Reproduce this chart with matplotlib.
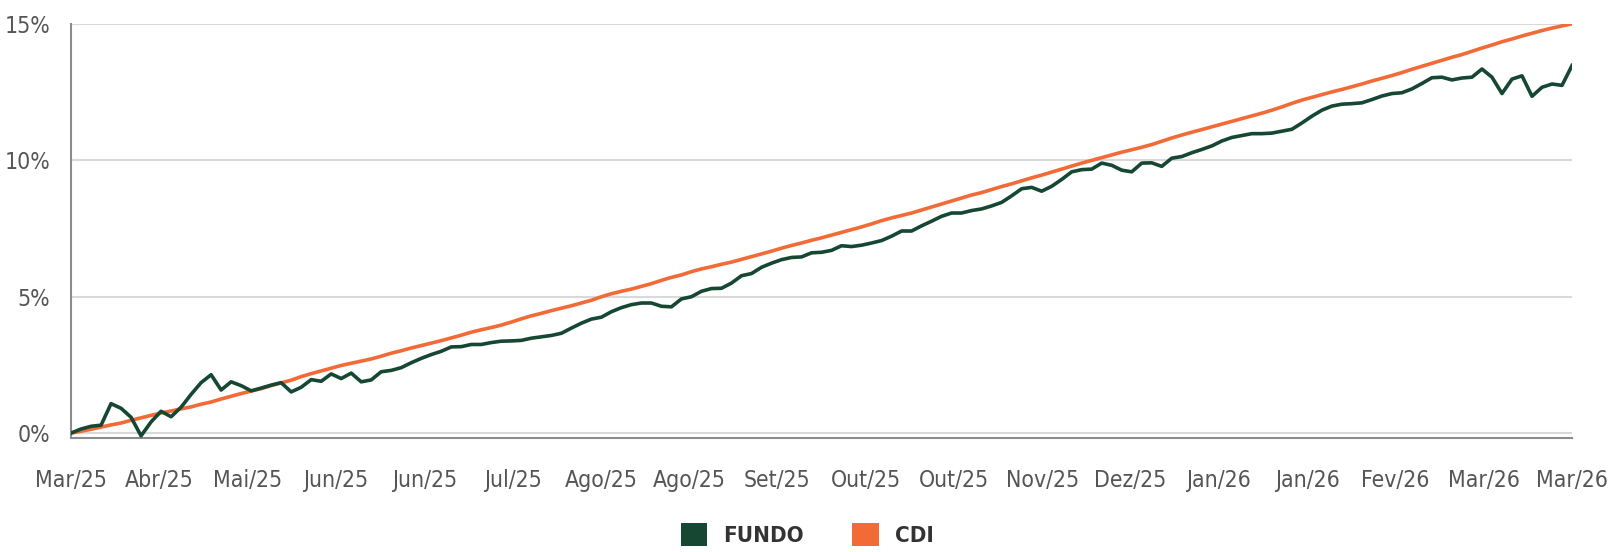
import numpy as np
import matplotlib
matplotlib.use("Agg")
import matplotlib.pyplot as plt
from matplotlib.patches import Patch

plt.rcParams['font.family'] = ['Liberation Sans Narrow', 'DejaVu Sans']
plt.rcParams['font.stretch'] = 'condensed'

# cumulative return (%) - one value per step
fundo = [0.00, 0.15, 0.25, 0.29, 1.08, 0.91, 0.58, -0.10, 0.41, 0.80,
         0.60, 0.95, 1.42, 1.85, 2.14, 1.58, 1.88, 1.74, 1.55, 1.65,
         1.76, 1.85, 1.51, 1.68, 1.96, 1.90, 2.17, 2.00, 2.20, 1.88,
         1.95, 2.25, 2.30, 2.40, 2.58, 2.74, 2.88, 3.00, 3.16, 3.17,
         3.25, 3.25, 3.32, 3.37, 3.38, 3.40, 3.48, 3.53, 3.58, 3.66,
         3.85, 4.03, 4.18, 4.25, 4.45, 4.60, 4.71, 4.77, 4.77, 4.65,
         4.63, 4.92, 5.00, 5.20, 5.30, 5.31, 5.50, 5.77, 5.85, 6.08,
         6.23, 6.36, 6.44, 6.46, 6.61, 6.63, 6.70, 6.87, 6.84, 6.89,
         6.97, 7.06, 7.22, 7.41, 7.41, 7.60, 7.77, 7.95, 8.07, 8.07,
         8.16, 8.22, 8.33, 8.46, 8.70, 8.96, 9.01, 8.87, 9.05, 9.30,
         9.58, 9.66, 9.68, 9.90, 9.82, 9.64, 9.58, 9.90, 9.91, 9.78,
         10.08, 10.14, 10.28, 10.40, 10.53, 10.71, 10.84, 10.91, 10.98, 10.98,
         11.00, 11.07, 11.14, 11.37, 11.62, 11.84, 11.99, 12.06, 12.08, 12.11,
         12.23, 12.36, 12.45, 12.48, 12.62, 12.82, 13.03, 13.05, 12.95, 13.02,
         13.05, 13.35, 13.05, 12.45, 12.98, 13.10, 12.35, 12.68, 12.80, 12.75,
         13.48]

cdi = [0.00, 0.07, 0.14, 0.22, 0.30, 0.37, 0.47, 0.56, 0.65, 0.74,
       0.81, 0.89, 0.96, 1.06, 1.14, 1.25, 1.35, 1.45, 1.54, 1.63,
       1.74, 1.84, 1.94, 2.07, 2.18, 2.28, 2.38, 2.48, 2.56, 2.64,
       2.72, 2.82, 2.93, 3.02, 3.12, 3.21, 3.30, 3.39, 3.49, 3.59,
       3.70, 3.79, 3.87, 3.96, 4.07, 4.19, 4.30, 4.39, 4.49, 4.58,
       4.67, 4.77, 4.87, 5.00, 5.11, 5.20, 5.28, 5.38, 5.48, 5.60,
       5.71, 5.80, 5.92, 6.02, 6.10, 6.19, 6.27, 6.37, 6.47, 6.57,
       6.67, 6.78, 6.88, 6.97, 7.07, 7.16, 7.26, 7.36, 7.46, 7.56,
       7.67, 7.79, 7.89, 7.98, 8.07, 8.18, 8.29, 8.40, 8.51, 8.62,
       8.73, 8.82, 8.93, 9.04, 9.14, 9.25, 9.36, 9.46, 9.57, 9.68,
       9.79, 9.90, 10.00, 10.10, 10.20, 10.30, 10.39, 10.48, 10.58, 10.70,
       10.82, 10.93, 11.03, 11.13, 11.23, 11.33, 11.43, 11.53, 11.63, 11.73,
       11.84, 11.96, 12.09, 12.21, 12.31, 12.41, 12.51, 12.60, 12.70, 12.80,
       12.91, 13.01, 13.11, 13.22, 13.34, 13.45, 13.56, 13.67, 13.78, 13.88,
       14.00, 14.12, 14.23, 14.35, 14.45, 14.56, 14.66, 14.76, 14.85, 14.93,
       15.01]

month_labels = ['Mar/25', 'Abr/25', 'Mai/25', 'Jun/25', 'Jun/25', 'Jul/25',
                'Ago/25', 'Ago/25', 'Set/25', 'Out/25', 'Out/25', 'Nov/25',
                'Dez/25', 'Jan/26', 'Jan/26', 'Fev/26', 'Mar/26', 'Mar/26']
y_ticks = [0, 5, 10, 15]

green = '#164733'
orange = '#F26A36'
grid_c = '#d9d9d9'
text_c = '#555555'

fig = plt.figure(figsize=(16.14, 5.52), dpi=100)
ax = fig.add_axes([0.044, 0.2065, 0.930, 0.75])

n = len(fundo)
ax.plot(np.arange(len(cdi)), cdi, color=orange, lw=2.6, zorder=3)
ax.plot(np.arange(n), fundo, color=green, lw=2.6, zorder=4)

ax.set_xlim(0, n - 1)
ax.set_ylim(-0.18, 15)

ax.set_yticks(y_ticks)
ax.set_yticklabels([f'{v}%' for v in y_ticks])
ax.set_xticks(np.linspace(0, n - 1, len(month_labels)))
ax.set_xticklabels(month_labels)
ax.tick_params(axis='both', length=0, labelsize=16.5, colors=text_c)
ax.tick_params(axis='x', pad=22)
ax.tick_params(axis='y', pad=15)

ax.grid(axis='y', color=grid_c, lw=1.5, zorder=0)
for side in ['top', 'right']:
    ax.spines[side].set_visible(False)
ax.spines['left'].set_color('#8c8c8c')
ax.spines['left'].set_linewidth(1.5)
ax.spines['bottom'].set_color('#8c8c8c')
ax.spines['bottom'].set_linewidth(1.5)

handles = [Patch(facecolor=green, label='FUNDO'), Patch(facecolor=orange, label='CDI')]
leg = fig.legend(handles=handles, loc='center', bbox_to_anchor=(0.5, 0.032), ncol=2,
                 frameon=False, handlelength=1.2, handleheight=1.2, handletextpad=0.7,
                 columnspacing=2.2, prop={'size': 16, 'weight': 'bold'})
for t in leg.get_texts():
    t.set_color('#333333')

fig.savefig('out.png', dpi=100)
